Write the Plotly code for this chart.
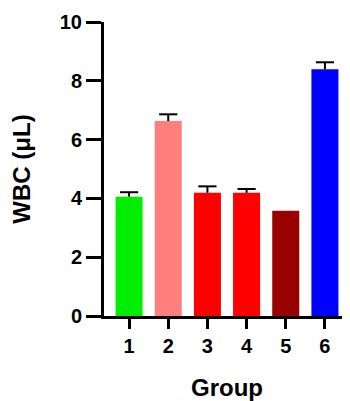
import plotly.graph_objects as go

groups = ["1", "2", "3", "4", "5", "6"]
wbc_mean = [4.06, 6.63, 4.19, 4.19, 3.58, 8.39]
wbc_err = [0.15, 0.23, 0.22, 0.13, None, 0.24]
bar_colors = ["#00ee00", "#ff7f7f", "#ff0000", "#ff0000", "#990000", "#0000ff"]
y_ticks = [0, 2, 4, 6, 8, 10]

xpos = [int(g) for g in groups]
err_up = [e if e is not None else 0 for e in wbc_err]
cap_y = [m + e if e is not None else None for m, e in zip(wbc_mean, wbc_err)]

fig = go.Figure()
fig.add_trace(go.Bar(
    x=xpos, y=wbc_mean, width=0.69,
    marker=dict(color=bar_colors, line=dict(width=0)),
    error_y=dict(type="data", symmetric=False, array=err_up,
                 arrayminus=[0] * len(xpos), visible=True,
                 color="black", thickness=2, width=0),
))
fig.add_trace(go.Scatter(
    x=xpos, y=cap_y, mode="markers",
    marker=dict(symbol="line-ew", size=13, line=dict(color="black", width=2)),
    hoverinfo="skip",
))

font_family = "Liberation Sans, Arial, sans-serif"
# page body has an 8px margin, so the figure is sized 8px smaller
fig.update_layout(
    width=342, height=393,
    margin=dict(l=96, r=0, t=14, b=85),
    paper_bgcolor="white", plot_bgcolor="white",
    showlegend=False,
    font=dict(family=font_family, color="black"),
    xaxis=dict(
        range=[0.36, 6.64], tickvals=xpos, ticktext=groups,
        showline=True, linecolor="black", linewidth=3,
        ticks="outside", ticklen=10, tickwidth=3, tickcolor="black",
        tickfont=dict(size=20, weight="bold", family=font_family),
        showgrid=False, zeroline=False, automargin=False,
        title=dict(text="Group", font=dict(size=24, weight="bold", family=font_family), standoff=26),
    ),
    yaxis=dict(
        range=[0, 10], tickvals=y_ticks,
        showline=True, linecolor="black", linewidth=3,
        ticks="outside", ticklen=15, tickwidth=3, tickcolor="black",
        tickfont=dict(size=20, weight="bold", family=font_family),
        showgrid=False, zeroline=False, automargin=False,
        title=dict(text="WBC (\u03bcL)", font=dict(size=24, weight="bold", family=font_family), standoff=24),
    ),
)

fig.write_html("out.html")
